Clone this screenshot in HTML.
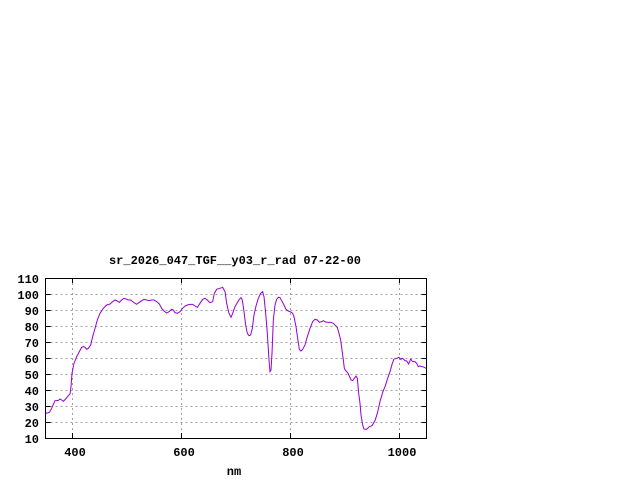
<!DOCTYPE html>
<html><head><meta charset="utf-8"><style>
html,body{margin:0;padding:0;background:#fff;}
svg{display:block}
text{font-family:"Liberation Mono","DejaVu Sans Mono",monospace;font-weight:bold;font-size:12px;fill:#000}
</style></head><body>
<svg width="640" height="480" viewBox="0 0 640 480" xmlns="http://www.w3.org/2000/svg">
<rect width="640" height="480" fill="#fff"/>
<g stroke="#a0a0a0" stroke-width="1" stroke-dasharray="2,3" fill="none">
<path d="M45.5 294.5H426M45.5 310.5H426M45.5 326.5H426M45.5 342.5H426M45.5 358.5H426M45.5 374.5H426M45.5 390.5H426M45.5 406.5H426M45.5 422.5H426"/>
<path d="M72.5 278V438M181.5 278V438M290.5 278V438M399.5 278V438"/>
</g>
<g stroke="#000" stroke-width="1" fill="none">
<rect x="45.5" y="278.5" width="381" height="160"/>
<path d="M45.5 294.5h5M45.5 310.5h5M45.5 326.5h5M45.5 342.5h5M45.5 358.5h5M45.5 374.5h5M45.5 390.5h5M45.5 406.5h5M45.5 422.5h5"/>
<path d="M426.5 294.5h-5M426.5 310.5h-5M426.5 326.5h-5M426.5 342.5h-5M426.5 358.5h-5M426.5 374.5h-5M426.5 390.5h-5M426.5 406.5h-5M426.5 422.5h-5"/>
<path d="M72.5 438v-5M181.5 438v-5M290.5 438v-5M399.5 438v-5M72.5 278v5M181.5 278v5M290.5 278v5M399.5 278v5"/>
</g>
<g text-anchor="end">
<text x="39" y="283">110</text><text x="39" y="299">100</text><text x="39" y="315">90</text><text x="39" y="331">80</text><text x="39" y="347">70</text><text x="39" y="363">60</text><text x="39" y="379">50</text><text x="39" y="395">40</text><text x="39" y="411">30</text><text x="39" y="427">20</text><text x="39" y="443">10</text>
</g>
<g text-anchor="middle">
<text x="75" y="456">400</text><text x="184" y="456">600</text><text x="293" y="456">800</text><text x="402" y="456">1000</text>
<text x="235" y="264">sr_2026_047_TGF__y03_r_rad 07-22-00</text>
<text x="234" y="475">nm</text>
</g>
<g fill="none" stroke="#9400d3" stroke-width="1">
<polyline vector-effect="non-scaling-stroke" transform="translate(0,250) scale(0.33333)" points="137,490 148,487 155,475 165,452 175,451 180,447 185,450 190,454 197,447 205,437 210,432 213,410 216,370 222,340 230,320 238,305 245,292 250,290 255,292 260,298 265,295 272,285 278,260 285,235 292,210 300,190 310,175 320,165 330,162 338,155 345,150 352,153 358,157 365,150 372,145 378,147 385,150 392,150 398,155 405,160 410,163 418,157 425,152 432,148 440,150 447,152 455,150 462,150 470,155 478,162 485,175 492,183 500,189 507,185 515,178 520,180 525,188 532,190 540,185 548,175 555,168 562,165 570,163 578,163 585,168 592,172 600,160 608,148 615,145 622,150 630,158 638,155 643,130 650,118 660,115"/>
<polyline vector-effect="non-scaling-stroke" transform="translate(220,250) scale(0.33333)" points="0,115 8,112 15,125 20,160 27,190 33,202 38,190 45,170 52,158 58,148 63,143 67,150 72,185 77,225 82,250 87,257 92,255 97,235 102,195 108,168 115,145 122,130 128,125 132,140 137,190 142,250 147,330 150,365 153,360 156,310 160,210 165,165 170,148 175,142 180,143 185,152 192,165 198,178 205,183 212,186 218,190 222,200 228,230 233,265 238,298 243,303 248,298 255,285 262,260 270,235 278,215 285,208 292,210 298,217 305,215 310,212 317,216 325,217 333,217 340,220 347,227 352,233 357,250 362,270 366,300 370,330 373,355 377,362 383,368 388,378 393,390 398,392 403,385 408,378 412,385 416,430 420,460 423,495 428,525 432,537 440,538 448,530 456,527 465,512 472,490 480,455 488,427 495,410 503,385 510,365 517,340 522,327 530,325 537,322 542,328 548,325 555,332 560,333 566,342 572,327 578,335 585,335 590,340 595,350 600,348 607,350 613,352 618,355"/>
</g>
</svg>
</body></html>
